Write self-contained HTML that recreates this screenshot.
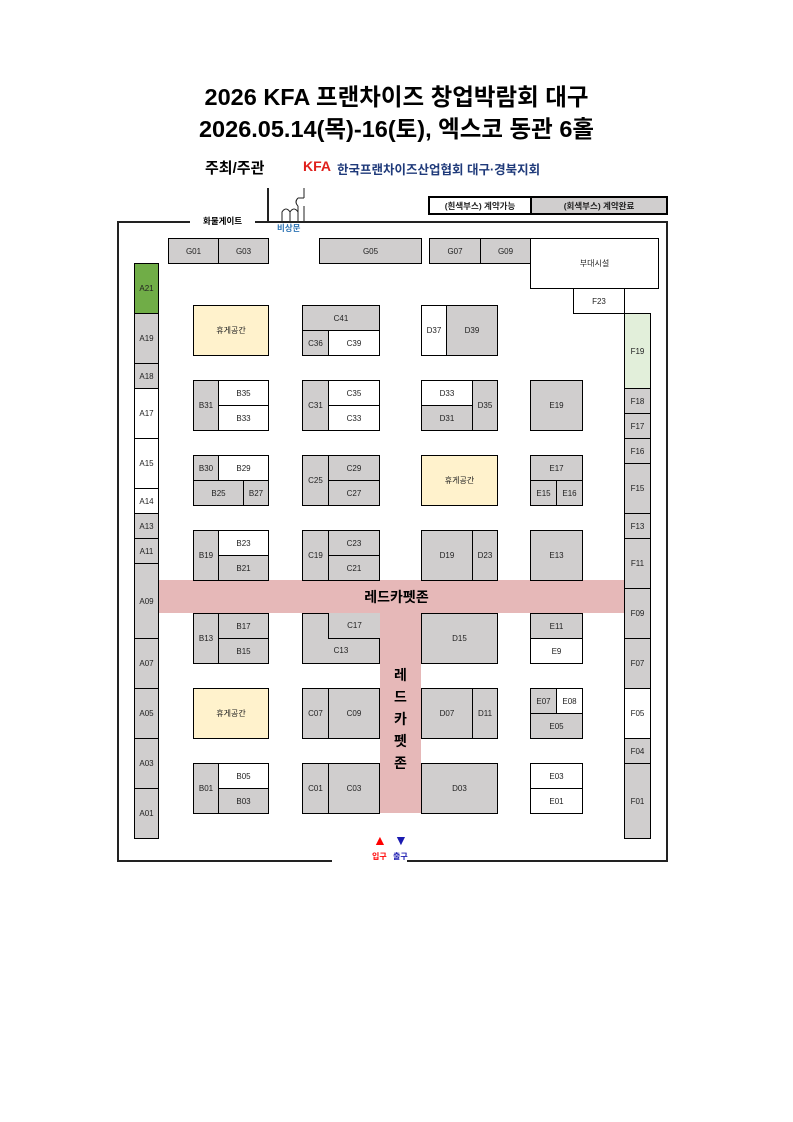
<!DOCTYPE html>
<html><head><meta charset="utf-8">
<style>
body{margin:0;width:793px;height:1122px;background:#fff;position:relative;font-family:"Liberation Sans","Noto Sans CJK KR",sans-serif;overflow:hidden}
.b{position:absolute;border:1px solid #000;box-sizing:border-box;display:flex;align-items:center;justify-content:center;font-size:8px;color:#222;background:#fff}
.g{background:#d0cece}
.y{background:#fff2cc}
.t{position:absolute;white-space:nowrap}
</style></head><body>
<div class="t" style="left:0;width:793px;text-align:center;top:78px;font-size:23.5px;font-weight:bold">2026 KFA 프랜차이즈 창업박람회 대구</div>
<div class="t" style="left:0;width:793px;text-align:center;top:110px;font-size:23.5px;font-weight:bold">2026.05.14(목)-16(토), 엑스코 동관 6홀</div>
<div class="t" style="left:205px;top:157px;font-size:15px;font-weight:bold">주최/주관</div>
<div class="t" style="left:303px;top:158px;font-size:14px;font-weight:900;color:#e0201c">KFA</div>
<div class="t" style="left:337px;top:159px;font-size:12.5px;font-weight:bold;color:#1f3a7a">한국프랜차이즈산업협회 대구·경북지회</div>

<div class="b" style="left:428px;top:196px;width:104px;height:19px;border-width:2px;font-size:8.5px;font-weight:bold">(흰색부스) 계약가능</div>
<div class="b g" style="left:530px;top:196px;width:138px;height:19px;border-width:2px;font-size:8.5px;font-weight:bold">(회색부스) 계약완료</div>

<!-- frame -->
<div style="position:absolute;left:117px;top:221px;width:551px;height:641px;border:2px solid #222;box-sizing:border-box"></div>
<div style="position:absolute;left:190px;top:218px;width:65px;height:6px;background:#fff"></div>
<div class="t" style="left:203px;top:215px;font-size:8.5px;font-weight:bold">화물게이트</div>
<div style="position:absolute;left:267px;top:188px;width:2px;height:34px;background:#222"></div>
<svg style="position:absolute;left:272px;top:188px" width="40" height="36"><path d="M10 33 V24 Q14 18 18 24 V33 M18 33 V24 Q22 18 26 24 V33" fill="none" stroke="#222" stroke-width="1"/><path d="M26 33 V18 M26 18 Q22 14 26 10 M26 10 H32 M32 0 V10 M32 18 V33" fill="none" stroke="#222" stroke-width="1"/></svg>
<div class="t" style="left:277px;top:222px;font-size:8.5px;font-weight:bold;color:#2f75b5">비상문</div>
<div style="position:absolute;left:332px;top:856px;width:75px;height:8px;background:#fff"></div>

<!-- G row -->
<div class="b g" style="left:168px;top:238px;width:51px;height:26px">G01</div>
<div class="b g" style="left:218px;top:238px;width:51px;height:26px">G03</div>
<div class="b g" style="left:319px;top:238px;width:103px;height:26px">G05</div>
<div class="b g" style="left:429px;top:238px;width:52px;height:26px">G07</div>
<div class="b g" style="left:480px;top:238px;width:51px;height:26px">G09</div>
<div class="b" style="left:530px;top:238px;width:129px;height:51px">부대시설</div>
<div class="b" style="left:573px;top:288px;width:52px;height:26px">F23</div>

<!-- A col -->
<div class="b" style="left:134px;top:263px;width:25px;height:51px;background:#70ad47">A21</div>
<div class="b g" style="left:134px;top:313px;width:25px;height:51px">A19</div>
<div class="b g" style="left:134px;top:363px;width:25px;height:26px">A18</div>
<div class="b" style="left:134px;top:388px;width:25px;height:51px">A17</div>
<div class="b" style="left:134px;top:438px;width:25px;height:51px">A15</div>
<div class="b" style="left:134px;top:488px;width:25px;height:26px">A14</div>
<div class="b g" style="left:134px;top:513px;width:25px;height:26px">A13</div>
<div class="b g" style="left:134px;top:538px;width:25px;height:26px">A11</div>
<div class="b g" style="left:134px;top:563px;width:25px;height:76px">A09</div>
<div class="b g" style="left:134px;top:638px;width:25px;height:51px">A07</div>
<div class="b g" style="left:134px;top:688px;width:25px;height:51px">A05</div>
<div class="b g" style="left:134px;top:738px;width:25px;height:51px">A03</div>
<div class="b g" style="left:134px;top:788px;width:25px;height:51px">A01</div>

<!-- F col -->
<div class="b" style="left:624px;top:313px;width:27px;height:76px;background:#e2efda">F19</div>
<div class="b g" style="left:624px;top:388px;width:27px;height:26px">F18</div>
<div class="b g" style="left:624px;top:413px;width:27px;height:26px">F17</div>
<div class="b g" style="left:624px;top:438px;width:27px;height:26px">F16</div>
<div class="b g" style="left:624px;top:463px;width:27px;height:51px">F15</div>
<div class="b g" style="left:624px;top:513px;width:27px;height:26px">F13</div>
<div class="b g" style="left:624px;top:538px;width:27px;height:51px">F11</div>
<div class="b g" style="left:624px;top:588px;width:27px;height:51px">F09</div>
<div class="b g" style="left:624px;top:638px;width:27px;height:51px">F07</div>
<div class="b" style="left:624px;top:688px;width:27px;height:51px">F05</div>
<div class="b g" style="left:624px;top:738px;width:27px;height:26px">F04</div>
<div class="b g" style="left:624px;top:763px;width:27px;height:76px">F01</div>

<!-- red carpet -->
<div style="position:absolute;left:159px;top:580px;width:465px;height:33px;background:#e6b8b8"></div>
<div style="position:absolute;left:380px;top:612px;width:41px;height:201px;background:#e6b8b8"></div>
<div class="t" style="left:0;width:793px;text-align:center;top:587px;font-size:14px;font-weight:bold">레드카펫존</div>
<div class="t" style="left:380px;width:41px;text-align:center;top:664px;font-size:14px;font-weight:bold;line-height:22px;white-space:normal">레<br>드<br>카<br>펫<br>존</div>

<!-- Row1 -->
<div class="b y" style="left:193px;top:305px;width:76px;height:51px">휴게공간</div>
<div class="b g" style="left:302px;top:305px;width:78px;height:26px">C41</div>
<div class="b g" style="left:302px;top:330px;width:27px;height:26px">C36</div>
<div class="b" style="left:328px;top:330px;width:52px;height:26px">C39</div>
<div class="b" style="left:421px;top:305px;width:26px;height:51px">D37</div>
<div class="b g" style="left:446px;top:305px;width:52px;height:51px">D39</div>

<!-- Row2 -->
<div class="b g" style="left:193px;top:380px;width:26px;height:51px">B31</div>
<div class="b" style="left:218px;top:380px;width:51px;height:26px">B35</div>
<div class="b" style="left:218px;top:405px;width:51px;height:26px">B33</div>
<div class="b g" style="left:302px;top:380px;width:27px;height:51px">C31</div>
<div class="b" style="left:328px;top:380px;width:52px;height:26px">C35</div>
<div class="b" style="left:328px;top:405px;width:52px;height:26px">C33</div>
<div class="b" style="left:421px;top:380px;width:52px;height:26px">D33</div>
<div class="b g" style="left:421px;top:405px;width:52px;height:26px">D31</div>
<div class="b g" style="left:472px;top:380px;width:26px;height:51px">D35</div>
<div class="b g" style="left:530px;top:380px;width:53px;height:51px">E19</div>

<!-- Row3 -->
<div class="b g" style="left:193px;top:455px;width:26px;height:26px">B30</div>
<div class="b" style="left:218px;top:455px;width:51px;height:26px">B29</div>
<div class="b g" style="left:193px;top:480px;width:51px;height:26px">B25</div>
<div class="b g" style="left:243px;top:480px;width:26px;height:26px">B27</div>
<div class="b g" style="left:302px;top:455px;width:27px;height:51px">C25</div>
<div class="b g" style="left:328px;top:455px;width:52px;height:26px">C29</div>
<div class="b g" style="left:328px;top:480px;width:52px;height:26px">C27</div>
<div class="b y" style="left:421px;top:455px;width:77px;height:51px">휴게공간</div>
<div class="b g" style="left:530px;top:455px;width:53px;height:26px">E17</div>
<div class="b g" style="left:530px;top:480px;width:27px;height:26px">E15</div>
<div class="b g" style="left:556px;top:480px;width:27px;height:26px">E16</div>

<!-- Row4 -->
<div class="b g" style="left:193px;top:530px;width:26px;height:51px">B19</div>
<div class="b" style="left:218px;top:530px;width:51px;height:26px">B23</div>
<div class="b g" style="left:218px;top:555px;width:51px;height:26px">B21</div>
<div class="b g" style="left:302px;top:530px;width:27px;height:51px">C19</div>
<div class="b g" style="left:328px;top:530px;width:52px;height:26px">C23</div>
<div class="b g" style="left:328px;top:555px;width:52px;height:26px">C21</div>
<div class="b g" style="left:421px;top:530px;width:52px;height:51px">D19</div>
<div class="b g" style="left:472px;top:530px;width:26px;height:51px">D23</div>
<div class="b g" style="left:530px;top:530px;width:53px;height:51px">E13</div>

<!-- Row5 -->
<div class="b g" style="left:193px;top:613px;width:26px;height:51px">B13</div>
<div class="b g" style="left:218px;top:613px;width:51px;height:26px">B17</div>
<div class="b g" style="left:218px;top:638px;width:51px;height:26px">B15</div>
<div class="b g" style="left:302px;top:613px;width:78px;height:51px;align-items:flex-end;padding-bottom:8px">C13</div>
<div class="b g" style="left:328px;top:613px;width:52px;height:26px;border-top:none;border-right:none">C17</div>
<div class="b g" style="left:421px;top:613px;width:77px;height:51px">D15</div>
<div class="b g" style="left:530px;top:613px;width:53px;height:26px">E11</div>
<div class="b" style="left:530px;top:638px;width:53px;height:26px">E9</div>

<!-- Row6 -->
<div class="b y" style="left:193px;top:688px;width:76px;height:51px">휴게공간</div>
<div class="b g" style="left:302px;top:688px;width:27px;height:51px">C07</div>
<div class="b g" style="left:328px;top:688px;width:52px;height:51px">C09</div>
<div class="b g" style="left:421px;top:688px;width:52px;height:51px">D07</div>
<div class="b g" style="left:472px;top:688px;width:26px;height:51px">D11</div>
<div class="b g" style="left:530px;top:688px;width:27px;height:26px">E07</div>
<div class="b" style="left:556px;top:688px;width:27px;height:26px">E08</div>
<div class="b g" style="left:530px;top:713px;width:53px;height:26px">E05</div>

<!-- Row7 -->
<div class="b g" style="left:193px;top:763px;width:26px;height:51px">B01</div>
<div class="b" style="left:218px;top:763px;width:51px;height:26px">B05</div>
<div class="b g" style="left:218px;top:788px;width:51px;height:26px">B03</div>
<div class="b g" style="left:302px;top:763px;width:27px;height:51px">C01</div>
<div class="b g" style="left:328px;top:763px;width:52px;height:51px">C03</div>
<div class="b g" style="left:421px;top:763px;width:77px;height:51px">D03</div>
<div class="b" style="left:530px;top:763px;width:53px;height:26px">E03</div>
<div class="b" style="left:530px;top:788px;width:53px;height:26px">E01</div>

<!-- entrance -->
<div class="t" style="left:373px;top:832px;font-size:14px;color:#ff0000">▲</div>
<div class="t" style="left:394px;top:832px;font-size:14px;color:#1a1ab0">▼</div>
<div class="t" style="left:372px;top:851px;font-size:8px;font-weight:bold;color:#ff0000">입구</div>
<div class="t" style="left:393px;top:851px;font-size:8px;font-weight:bold;color:#1a1ab0">출구</div>
</body></html>
